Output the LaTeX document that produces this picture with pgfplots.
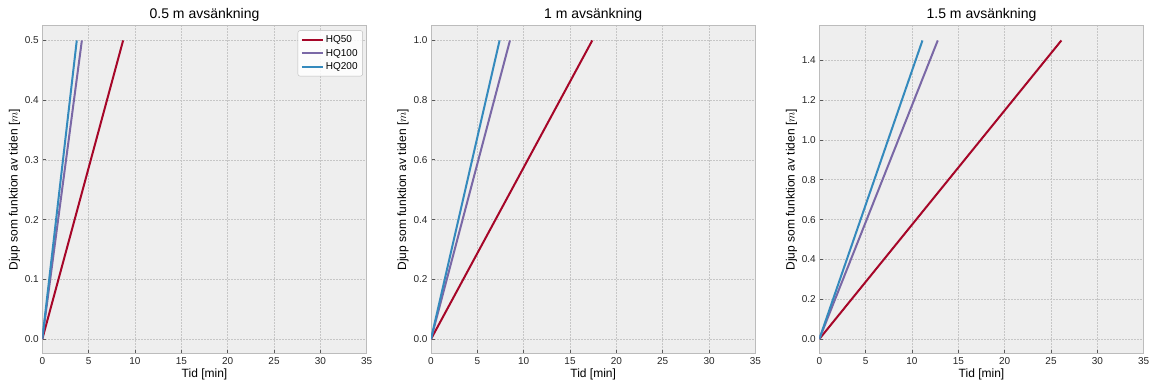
\documentclass[border=0pt]{standalone}
\usepackage{pgfplots}
\pgfplotsset{compat=1.18}
\usepackage{fontspec}
\setmainfont{Liberation Sans}
\definecolor{c50}{HTML}{A60628}
\definecolor{c100}{HTML}{7A68A6}
\definecolor{c200}{HTML}{348ABD}
\definecolor{bg}{HTML}{EEEEEE}
\definecolor{gridc}{HTML}{C6C6C6}
\definecolor{edge}{HTML}{BCBCBC}
\pgfplotsset{
 panel/.style={
  scale only axis, width=324.4pt, height=328.5pt,
  xmin=0, xmax=35, xtick={0,5,...,35},
  axis background/.style={fill=bg},
  axis line style={edge, line width=1pt},
  grid=major,
  major grid style={gridc, line width=0.7pt, dash pattern=on 2pt off 1pt},
  tick align=inside, major tick length=3.5pt,
  xtick pos=bottom, ytick pos=left,
  tick style={black!65, line width=0.8pt},
  tick label style={font=\fontsize{10}{12}\selectfont, text=black!85},
  /pgf/number format/assume math mode=true,
  label style={font=\fontsize{12}{14}\selectfont},
  every axis title/.style={font=\fontsize{14}{17}\selectfont, at={(0.5,1)}, anchor=base, yshift=7pt},
  xlabel={Tid [min]}, ylabel={Djup som funktion av tiden [$m$]},
  every axis plot/.append style={line width=2pt, no marks},
  yticklabel style={/pgf/number format/fixed, /pgf/number format/fixed zerofill, /pgf/number format/precision=1},
  xlabel style={yshift=3pt},
  ylabel style={yshift=-2pt},
 }
}
\begin{document}
\begin{tikzpicture}
\useasboundingbox (0,0) rectangle (1149pt,385pt);
\begin{axis}[panel, at={(42.3pt,31pt)},
  title={0.5 m avsänkning},
  ymin=-0.025, ymax=0.525, ytick={0,0.1,...,0.5},
  legend style={at={(0.988,0.985)}, anchor=north east, fill=white, fill opacity=0.85, text opacity=1, draw=edge, rounded corners=2pt, font=\fontsize{10}{12}\selectfont, row sep=1pt, inner xsep=3pt, inner ysep=3pt},
  legend cell align=left,
  legend image code/.code={\draw[#1] (0pt,0pt) -- (21pt,0pt);},
]
\addplot[c50] coordinates {(0,0) (8.72,0.5)};
\addlegendentry{HQ50}
\addplot[c100] coordinates {(0,0) (4.27,0.5)};
\addlegendentry{HQ100}
\addplot[c200] coordinates {(0,0) (3.72,0.5)};
\addlegendentry{HQ200}
\end{axis}
\begin{axis}[panel, at={(431pt,31pt)},
  title={1 m avsänkning},
  ymin=-0.05, ymax=1.05, ytick={0,0.2,...,1.0},
]
\addplot[c50] coordinates {(0,0) (17.4,1.0)};
\addplot[c100] coordinates {(0,0) (8.52,1.0)};
\addplot[c200] coordinates {(0,0) (7.4,1.0)};
\end{axis}
\begin{axis}[panel, at={(819.3pt,31pt)},
  title={1.5 m avsänkning},
  ymin=-0.075, ymax=1.575, ytick={0,0.2,...,1.4},
]
\addplot[c50] coordinates {(0,0) (26.12,1.5)};
\addplot[c100] coordinates {(0,0) (12.78,1.5)};
\addplot[c200] coordinates {(0,0) (11.13,1.5)};
\end{axis}
\end{tikzpicture}
\end{document}
